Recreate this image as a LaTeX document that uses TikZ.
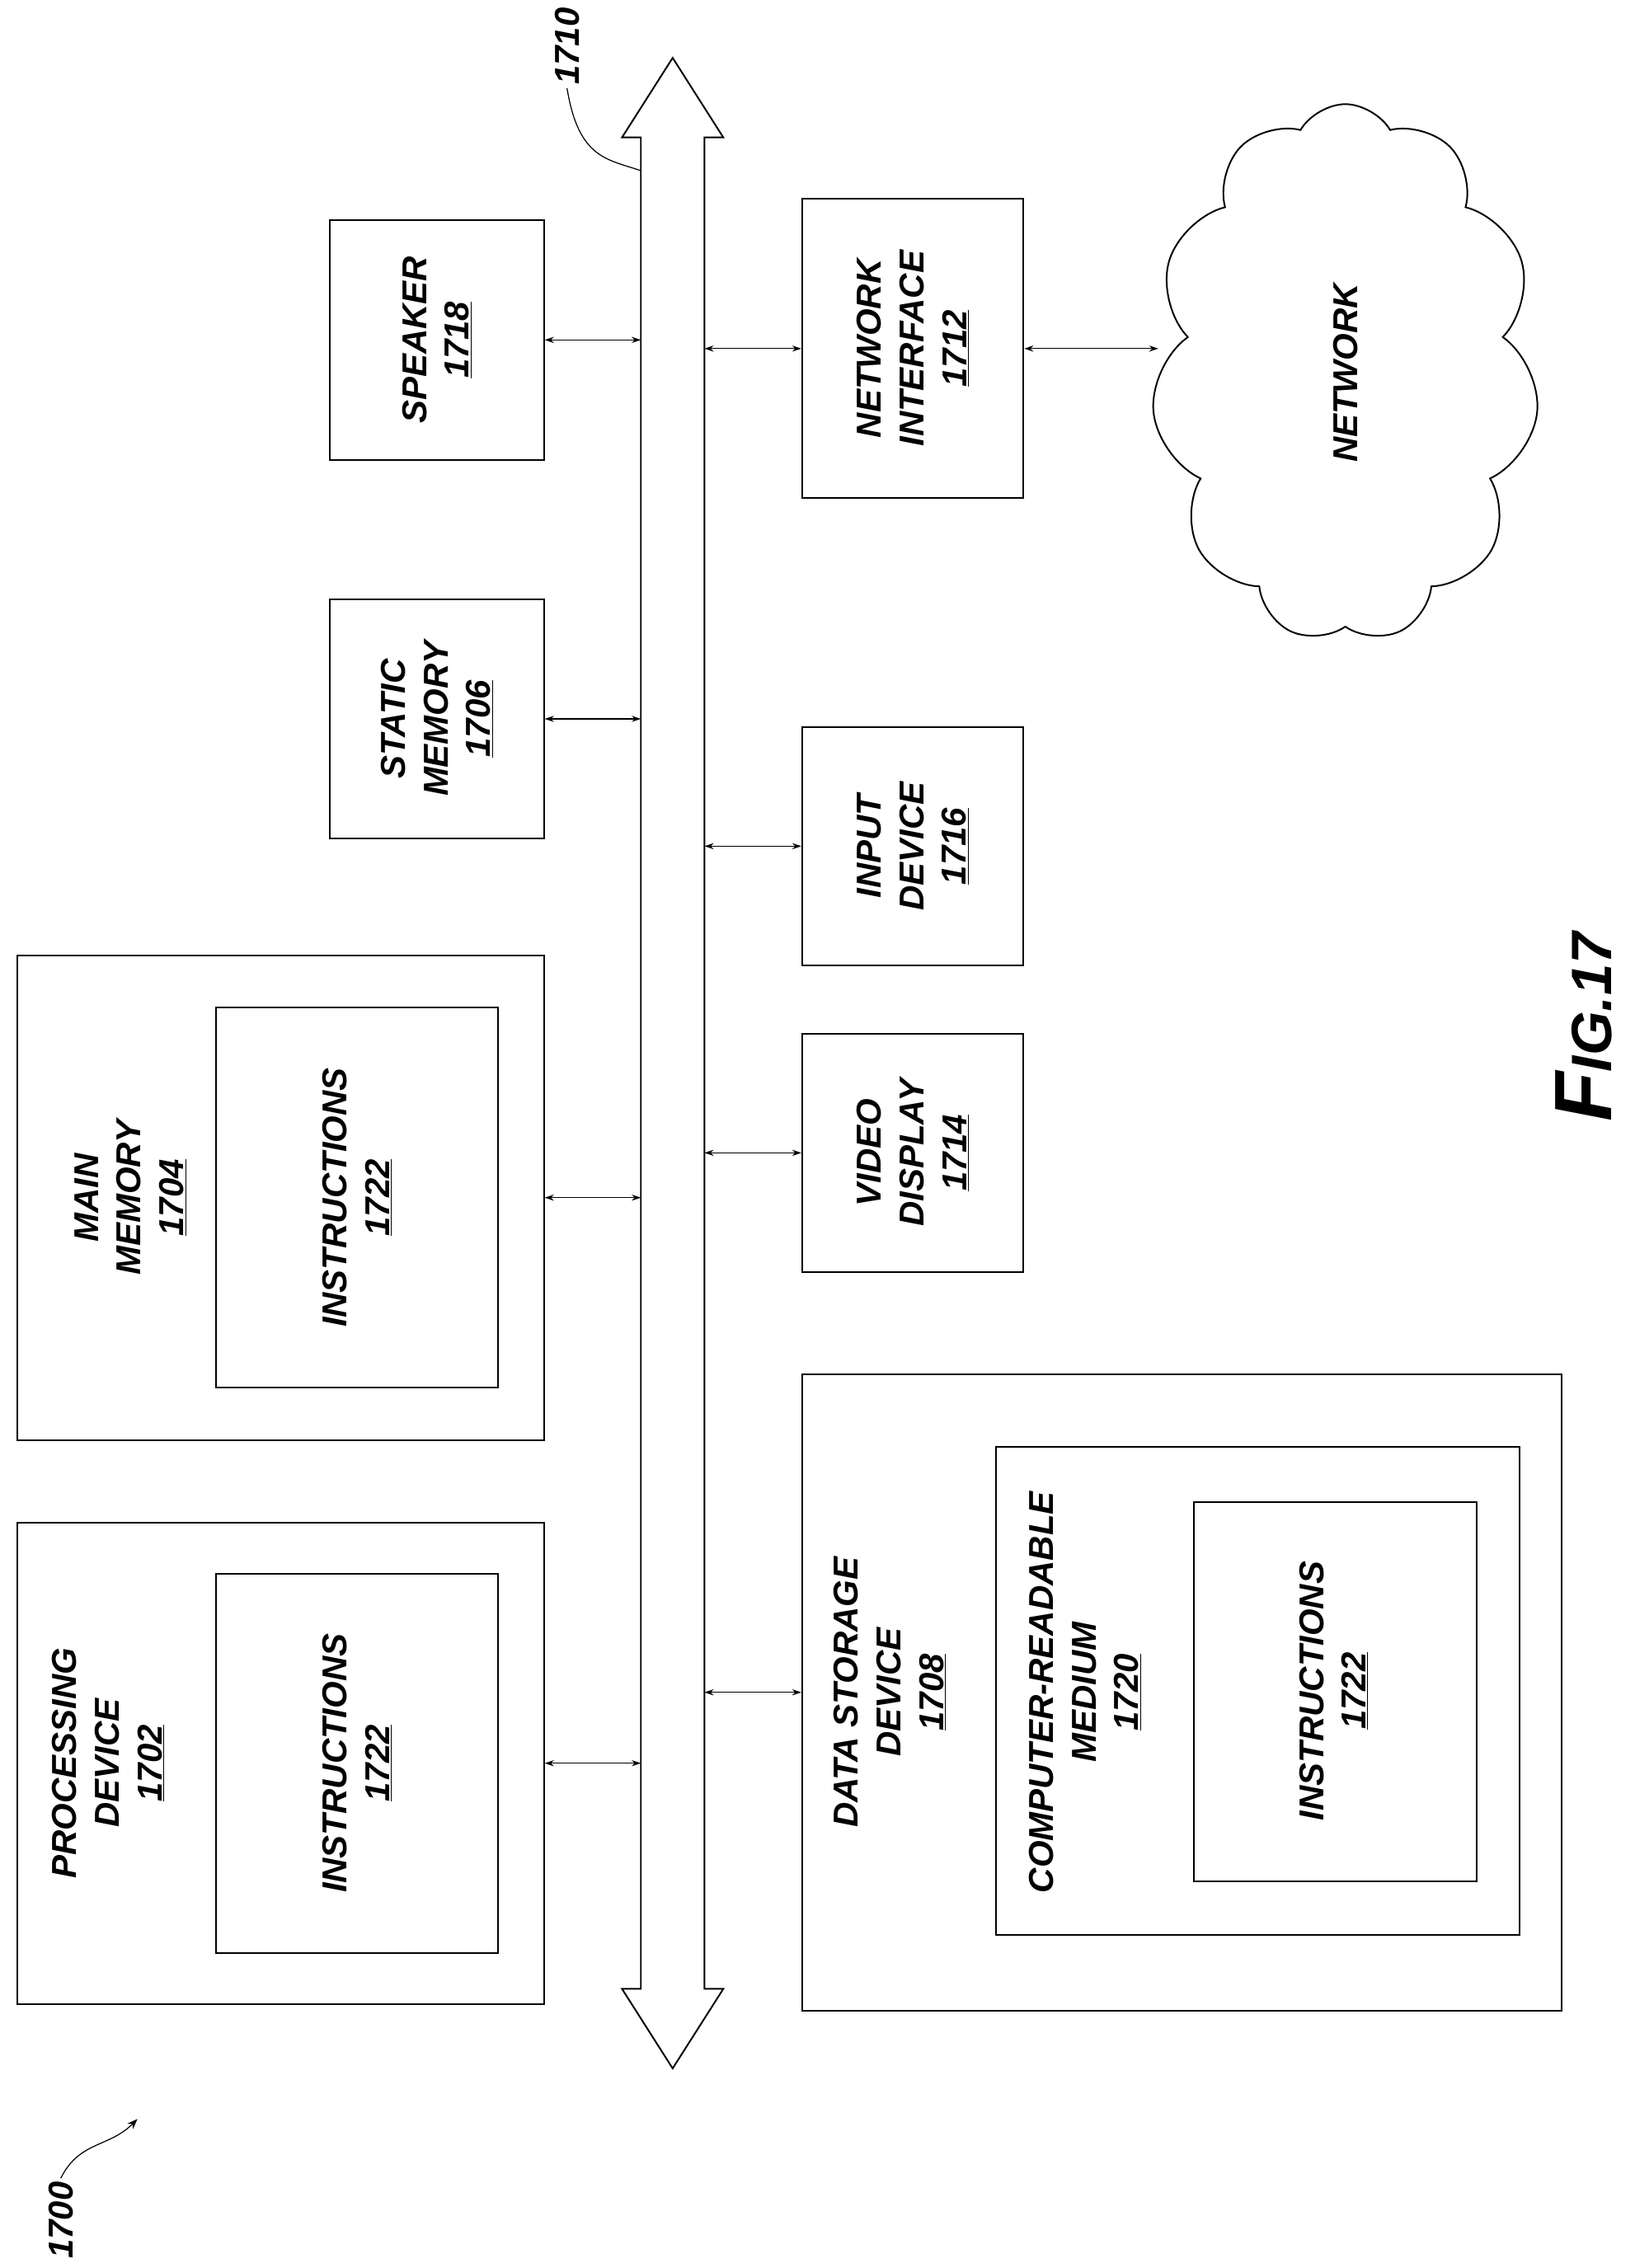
\documentclass[tikz,border=0pt]{standalone}
\usepackage{fontspec}
\setmainfont{Liberation Sans}
\usetikzlibrary{shapes.symbols,arrows.meta}
\begin{document}
\begin{tikzpicture}[x=0.05cm,y=-0.05cm,
  box/.style={draw,line width=1.6pt,inner sep=0pt},
  lbl/.style={rotate=90,align=center,font=\fontsize{34}{42}\selectfont\bfseries\itshape},
  con/.style={{Stealth[length=9pt,width=6pt]}-{Stealth[length=9pt,width=6pt]},line width=0.9pt}]
\useasboundingbox (0,0) rectangle (1130,1568);
% bus
\draw[line width=1.6pt] (443,95)--(430,95)--(465,40)--(500,95)--(487,95)--(487,1375)--(500,1375)--(465,1430)--(430,1375)--(443,1375)--cycle;
\coordinate (busL) at (443,0); \coordinate (busR) at (487,0);
\node[lbl] (l1710) at (392,32) {1710};
\coordinate (b1710) at (443,118);
\draw[line width=1pt] (l1710.west) .. controls (400,110) and (420,110) .. (b1710);
% left column
\node[box,minimum width=148*0.05cm,minimum height=166*0.05cm] (spk) at (302,235) {};
\node[lbl] at (spk) {SPEAKER\\\underline{1718}};
\node[box,minimum width=148*0.05cm,minimum height=165*0.05cm] (stm) at (302,497) {};
\node[lbl] at (stm) {STATIC\\MEMORY\\\underline{1706}};
\node[box,minimum width=364*0.05cm,minimum height=335*0.05cm] (mm) at (194,828) {};
\node[box,minimum width=195*0.05cm,minimum height=263*0.05cm] (mmi) at (247,828) {};
\node[lbl] at (90,828) {MAIN\\MEMORY\\\underline{1704}};
\node[lbl] at (247,828) {INSTRUCTIONS\\\underline{1722}};
\node[box,minimum width=364*0.05cm,minimum height=333*0.05cm] (pd) at (194,1219) {};
\node[box,minimum width=195*0.05cm,minimum height=262*0.05cm] (pdi) at (247,1219) {};
\node[lbl] at (75,1219) {PROCESSING\\DEVICE\\\underline{1702}};
\node[lbl] at (247,1219) {INSTRUCTIONS\\\underline{1722}};
% right column
\node[box,minimum width=153*0.05cm,minimum height=207*0.05cm] (ni) at (631,241) {};
\node[lbl] at (ni) {NETWORK\\INTERFACE\\\underline{1712}};
\node[box,minimum width=153*0.05cm,minimum height=165*0.05cm] (inp) at (631,585) {};
\node[lbl] at (inp) {INPUT\\DEVICE\\\underline{1716}};
\node[box,minimum width=153*0.05cm,minimum height=165*0.05cm] (vd) at (631,797) {};
\node[lbl] at (vd) {VIDEO\\DISPLAY\\\underline{1714}};
\node[box,minimum width=525*0.05cm,minimum height=440*0.05cm] (ds) at (817,1170) {};
\node[box,minimum width=362*0.05cm,minimum height=337*0.05cm,anchor=north west] (crm) at (688,1000) {};
\node[box,minimum width=195*0.05cm,minimum height=262*0.05cm,anchor=north west] (dsi) at (825,1038) {};
\node[lbl] at (615,1170) {DATA STORAGE\\DEVICE\\\underline{1708}};
\node[lbl] at (750,1170) {COMPUTER-READABLE\\MEDIUM\\\underline{1720}};
\node[lbl] at (922,1169) {INSTRUCTIONS\\\underline{1722}};
\node[cloud,draw,line width=1.6pt,cloud puffs=11,cloud puff arc=120,minimum width=268*0.05cm,minimum height=372*0.05cm,cloud ignores aspect] (net) at (930,258) {};
\node[lbl] at (net) {NETWORK};
% connectors
\draw[con] (spk.east) -- (spk.east -| busL);
\draw[con] (stm.east) -- (stm.east -| busL);
\draw[con] (mm.east) -- (mm.east -| busL);
\draw[con] (pd.east) -- (pd.east -| busL);
\draw[con] (ni.west -| busR) -- (ni.west);
\draw[con] (inp.west -| busR) -- (inp.west);
\draw[con] (vd.west -| busR) -- (vd.west);
\draw[con] (ds.west -| busR) -- (ds.west);
\draw[con] (ni.east) -- (net.west |- ni.east);
% labels
\node[lbl] (l1700) at (42,1535) {1700};
\coordinate (a1700) at (95,1465);
\draw[line width=1pt,-{Stealth[length=10pt]}] (l1700.east) .. controls (55,1480) and (75,1485) .. (a1700);
\node[rotate=90,font=\bfseries\itshape] (fig) at (1095,710) {{\fontsize{80}{80}\selectfont F}{\fontsize{56}{56}\selectfont IG.17}};
\end{tikzpicture}
\end{document}
